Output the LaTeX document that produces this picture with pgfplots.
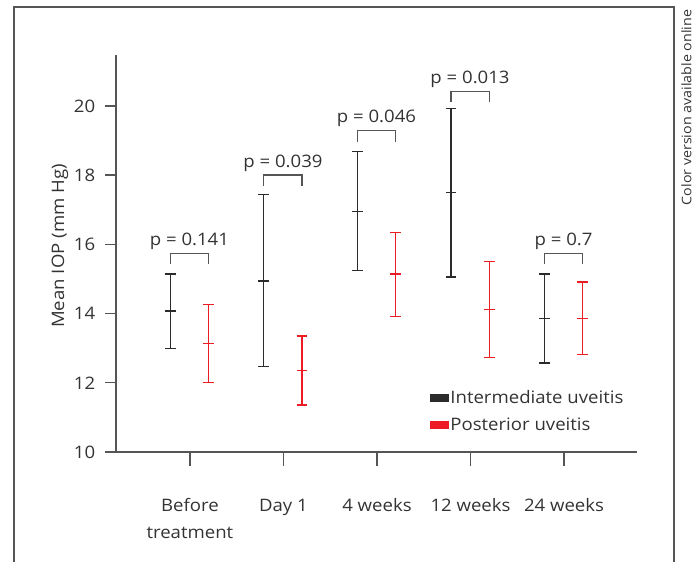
\documentclass[border=0pt]{standalone}
\usepackage{fontspec}
\setmainfont{Open Sans}[FakeStretch=1.08]
\usepackage{pgfplots}
\pgfplotsset{compat=1.18}
\definecolor{ink}{HTML}{333333}
\definecolor{axgray}{HTML}{555555}
\definecolor{myred}{HTML}{ED1C24}
\definecolor{mydark}{HTML}{2B2B2B}
\newcommand\lab{\fontsize{17.2}{27}\selectfont}
\begin{document}
\begin{tikzpicture}
\path[use as bounding box] (0pt,0pt) rectangle (694pt,-562pt);
\draw[axgray, line width=1.4pt] (14pt,-620pt) -- (14pt,-7pt) -- (674pt,-7pt) -- (674pt,-620pt);
\node[rotate=90, font=\fontsize{13.2}{14}\selectfont, text=ink, inner sep=0pt] at (686.5pt,-107.5pt) {Color version available online};
\begin{axis}[
  at={(116pt,-452pt)}, anchor=south west,
  scale only axis, width=521pt, height=397pt,
  xmin=-0.79, xmax=4.78, ymin=10, ymax=21.47,
  axis lines=left, axis line style={-, axgray, line width=1.3pt},
  tick align=outside,
  tick style={axgray, line width=1.3pt},
  xtick style={/pgfplots/major tick length=14pt},
  ytick style={/pgfplots/major tick length=11pt},
  xtick={0,1,2,3,4},
  xticklabels={{Before\\treatment},{Day 1},{4 weeks},{12 weeks},{24 weeks}},
  ytick={10,12,14,16,18,20},
  /pgf/number format/assume math mode=true,
  ticklabel style={font=\lab, text=ink},
  xticklabel style={align=center, yshift=-39pt},
  yticklabel style={xshift=-13pt},
  ylabel={Mean IOP (mm Hg)},
  ylabel style={font=\lab, text=ink, at={(axis description cs:-0.1075,0.519)}, anchor=center},
  legend style={draw=none, fill=none, at={(axis cs:2.533,11.90)}, anchor=north west, font=\lab, text=ink,
    row sep=9pt},
  legend cell align=left,
  legend image code/.code={\fill[#1] (-3pt,-3.5pt) rectangle (15pt,3.5pt);},
  clip=false,
]
\addlegendimage{mydark}
\addlegendentry{Intermediate uveitis}
\addlegendimage{myred}
\addlegendentry{Posterior uveitis}

\addplot[forget plot, only marks, mark=-, mark size=5.3pt, mydark, mark options={line width=1.3pt},
  error bars/.cd, y dir=both, y explicit, error mark=|,
  error mark options={mydark, mark size=5.3pt, line width=1.3pt},
  error bar style={line width=1.3pt, mydark}]
coordinates {
  (-0.21,14.07) += (0,1.07) -= (0,1.07)
  (0.79,14.94) += (0,2.49) -= (0,2.46)
  (1.79,16.95) += (0,1.73) -= (0,1.71)
  (2.79,17.49) += (0,2.44) -= (0,2.43)
  (3.79,13.85) += (0,1.29) -= (0,1.28)
};
\addplot[forget plot, only marks, mark=-, mark size=5.3pt, myred, mark options={line width=1.3pt},
  error bars/.cd, y dir=both, y explicit, error mark=|,
  error mark options={myred, mark size=5.3pt, line width=1.3pt},
  error bar style={line width=1.3pt, myred}]
coordinates {
  (0.20,13.13) += (0,1.13) -= (0,1.12)
  (1.20,12.36) += (0,0.99) -= (0,1.00)
  (2.20,15.14) += (0,1.20) -= (0,1.22)
  (3.20,14.11) += (0,1.40) -= (0,1.38)
  (4.20,13.85) += (0,1.06) -= (0,1.04)
};
% significance brackets
\addplot[forget plot, axgray, line width=1.3pt] coordinates {(-0.21,15.42) (-0.21,15.73) (0.20,15.73) (0.20,15.42)};
\addplot[forget plot, axgray, line width=1.3pt] coordinates {(0.79,17.69) (0.79,18.00) (1.20,18.00) (1.20,17.69)};
\addplot[forget plot, axgray, line width=1.3pt] coordinates {(1.79,18.97) (1.79,19.28) (2.20,19.28) (2.20,18.97)};
\addplot[forget plot, axgray, line width=1.3pt] coordinates {(2.79,20.11) (2.79,20.42) (3.20,20.42) (3.20,20.11)};
\addplot[forget plot, axgray, line width=1.3pt] coordinates {(3.79,15.42) (3.79,15.73) (4.20,15.73) (4.20,15.42)};
\node[anchor=base, font=\lab, text=ink] at (axis cs:-0.005,15.96) {p = 0.141};
\node[anchor=base, font=\lab, text=ink] at (axis cs:0.995,18.23) {p = 0.039};
\node[anchor=base, font=\lab, text=ink] at (axis cs:1.995,19.51) {p = 0.046};
\node[anchor=base, font=\lab, text=ink] at (axis cs:2.995,20.65) {p = 0.013};
\node[anchor=base, font=\lab, text=ink] at (axis cs:3.995,15.96) {p = 0.7};
\end{axis}
\end{tikzpicture}
\end{document}
